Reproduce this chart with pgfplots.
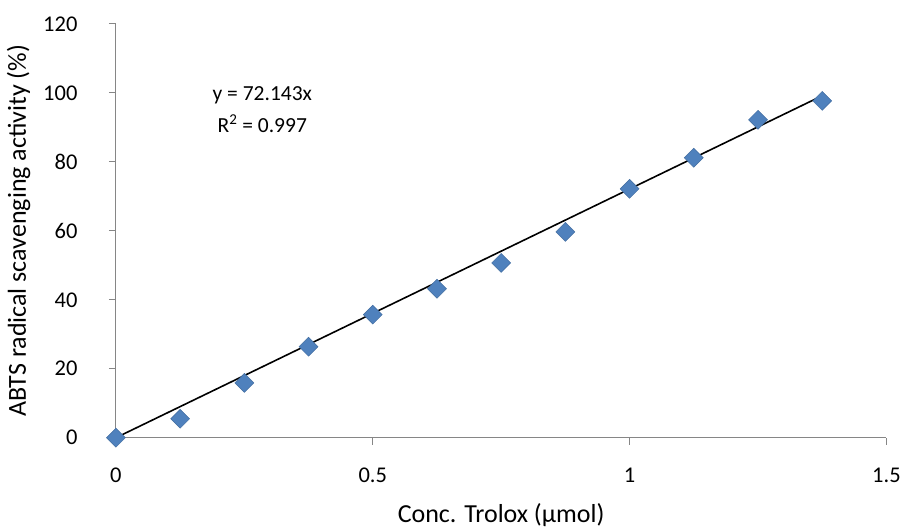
\documentclass[border=0pt]{standalone}
\usepackage{pgfplots}
\pgfplotsset{compat=1.18}
\usepackage{fontspec}
\setmainfont{Carlito}
\definecolor{mkblue}{HTML}{4F81BD}
\definecolor{axgray}{HTML}{868686}
\begin{document}
\begin{tikzpicture}
\begin{axis}[
  name=ax,
  scale only axis,
  width=771pt, height=414pt,
  xmin=0, xmax=1.5, ymin=0, ymax=120,
  xtick={0,0.5,1,1.5}, ytick={0,20,...,120},
  axis lines=left,
  axis line style={axgray, line width=1pt, -},
  tick style={axgray, line width=1pt},
  tick align=outside,
  major tick length=7pt,
  /pgf/number format/assume math mode=true,
  font=\fontsize{22.5}{27}\selectfont,
  xticklabel style={yshift=-20pt},
  yticklabel style={xshift=-28pt},
  xlabel={Conc. Trolox (µmol)},
  ylabel={ABTS radical scavenging activity (\%)},
  label style={font=\fontsize{26}{30}\selectfont},
  xlabel style={yshift=-14pt},
  ylabel style={yshift=6pt},
  clip=false,
]
\addplot[black, line width=1.6pt, no marks] coordinates {(0,0) (1.375,99.197)};
\addplot[only marks, mark=square*, mark size=6.7pt, mark options={rotate=45, fill=mkblue, draw=mkblue!85!black, line width=0.5pt}] coordinates {
(0,0) (0.125,5.5) (0.25,15.9) (0.375,26.4) (0.5,35.7) (0.625,43.2)
(0.75,50.7) (0.875,59.7) (1,72.2) (1.125,81.2) (1.25,92.2) (1.375,97.7)};
\node[align=center, font=\fontsize{21.5}{32}\selectfont] at (axis cs:0.285,95.3) {y = 72.143x\\R\textsuperscript{2} = 0.997};
\end{axis}
\path ([shift={(-116pt,-92pt)}]ax.south west) rectangle ([shift={(17pt,24pt)}]ax.north east);
\end{tikzpicture}
\end{document}
